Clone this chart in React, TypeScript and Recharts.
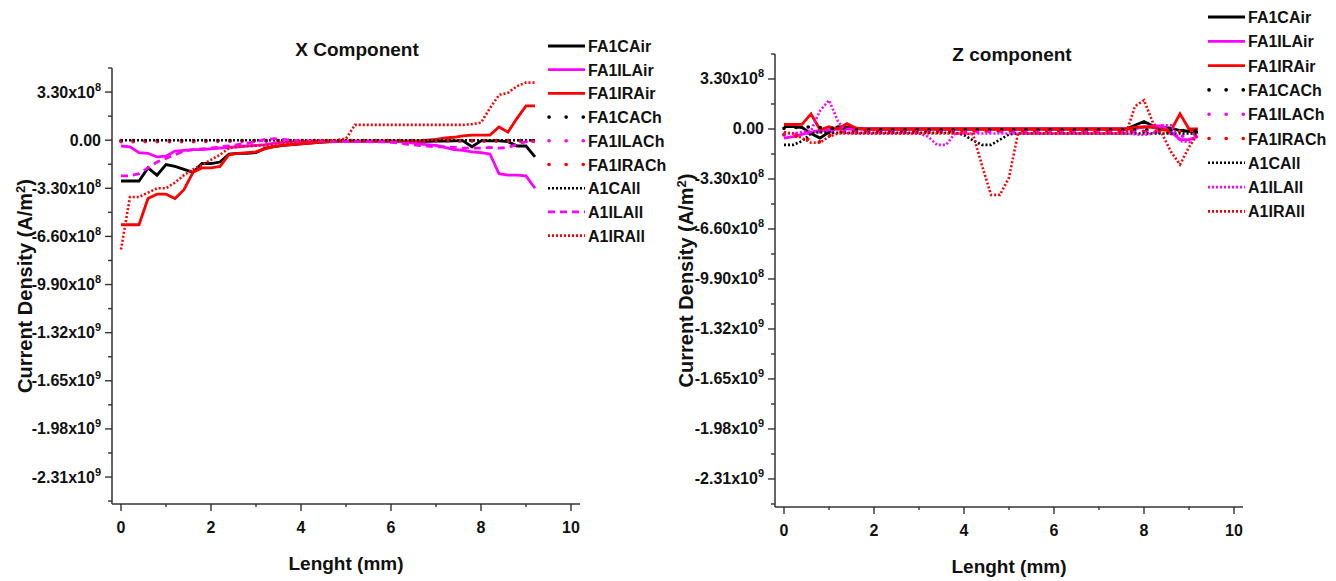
import React from 'react';
import { LineChart, Line, XAxis, YAxis, Legend, Label } from 'recharts';

const FONT = '"Liberation Sans", Arial, sans-serif';
const AXIS = '#333';

// Lenght (mm)
const lengths = [
  0, 0.2, 0.4, 0.6, 0.8, 1, 1.2, 1.4, 1.6, 1.8,
  2, 2.2, 2.4, 2.6, 2.8, 3, 3.2, 3.4, 3.6, 3.8,
  4, 4.2, 4.4, 4.6, 4.8, 5, 5.2, 5.4, 5.6, 5.8,
  6, 6.2, 6.4, 6.6, 6.8, 7, 7.2, 7.4, 7.6, 7.8,
  8, 8.2, 8.4, 8.6, 8.8, 9, 9.2,
];

const seriesNames = ['FA1CAir', 'FA1ILAir', 'FA1IRAir', 'FA1CACh', 'FA1ILACh', 'FA1IRACh', 'A1CAll', 'A1ILAll', 'A1IRAll'];

// X component, current density in units of 1e8 A/m2
const xFA1CAir = [
  -2.8, -2.8, -2.8, -1.9, -2.4, -1.67, -1.8, -2.0, -2.2, -1.6,
  -1.6, -1.5, -0.95, -0.9, -0.9, -0.85, -0.55, -0.45, -0.35, -0.3,
  -0.25, -0.2, -0.15, -0.12, -0.1, -0.1, -0.08, -0.08, -0.08, -0.08,
  -0.08, -0.08, -0.08, -0.08, -0.08, -0.07, -0.06, -0.05, -0.05, -0.45,
  -0.05, -0.05, -0.05, -0.1, -0.4, -0.4, -1.15,
];
const xFA1ILAir = [
  -0.4, -0.45, -0.85, -0.9, -1.15, -1.1, -0.75, -0.7, -0.65, -0.65,
  -0.6, -0.55, -0.5, -0.45, -0.4, -0.35, -0.3, -0.2, -0.15, -0.12,
  -0.1, -0.1, -0.1, -0.1, -0.1, -0.1, -0.1, -0.1, -0.1, -0.1,
  -0.1, -0.1, -0.15, -0.25, -0.3, -0.35, -0.5, -0.65, -0.7, -0.8,
  -0.85, -0.95, -2.3, -2.4, -2.4, -2.45, -3.3,
];
const xFA1IRAir = [
  -5.8, -5.8, -5.8, -4.0, -3.7, -3.7, -4.0, -3.4, -2.2, -1.9,
  -1.9, -1.8, -1.0, -0.9, -0.85, -0.8, -0.6, -0.45, -0.35, -0.3,
  -0.25, -0.2, -0.15, -0.1, -0.1, -0.05, -0.05, -0.05, -0.05, -0.05,
  -0.05, -0.05, -0.05, -0.05, 0, 0.05, 0.15, 0.2, 0.3, 0.35,
  0.35, 0.35, 0.9, 0.55, 1.5, 2.35, 2.35,
];
const xFA1CACh = [
  -0.03, -0.03, -0.03, -0.03, -0.03, -0.03, -0.03, -0.03, -0.03, -0.03,
  -0.03, -0.03, -0.03, -0.03, -0.03, -0.03, -0.03, -0.03, -0.03, -0.03,
  -0.03, -0.03, -0.03, -0.03, -0.03, -0.03, -0.03, -0.03, -0.03, -0.03,
  -0.03, -0.03, -0.03, -0.03, -0.03, -0.03, -0.03, -0.03, -0.03, -0.03,
  -0.03, -0.03, -0.03, -0.03, -0.03, -0.03, -0.03,
];
const xFA1ILACh = [
  -0.1, -0.1, -0.1, -0.1, -0.1, -0.1, -0.1, -0.1, -0.1, -0.1,
  -0.08, -0.08, -0.08, -0.08, -0.08, -0.05, -0.05, -0.05, -0.05, -0.05,
  -0.05, -0.05, -0.05, -0.05, -0.05, -0.05, -0.05, -0.05, -0.05, -0.05,
  -0.05, -0.05, -0.05, -0.05, -0.05, -0.05, -0.05, -0.05, -0.05, -0.05,
  -0.05, -0.05, -0.05, -0.05, -0.05, -0.05, -0.05,
];
const xFA1IRACh = [
  -0.06, -0.06, -0.06, -0.06, -0.06, -0.06, -0.06, -0.06, -0.06, -0.06,
  -0.04, -0.04, -0.04, -0.04, -0.04, -0.04, -0.04, -0.04, -0.04, -0.04,
  -0.04, -0.04, -0.04, -0.04, -0.04, -0.04, -0.04, -0.04, -0.04, -0.04,
  -0.04, -0.04, -0.04, -0.04, -0.04, -0.04, -0.04, -0.04, -0.04, -0.04,
  -0.04, -0.04, -0.04, -0.04, -0.04, -0.04, -0.04,
];
const xA1CAll = [
  0, 0, 0, 0, 0, 0, 0, 0, 0, 0,
  0, 0, 0, 0, 0, 0, 0, 0, 0, 0,
  0, 0, 0, 0, 0, 0, 0, 0, 0, 0,
  0, 0, 0, 0, 0, 0, 0, 0, 0, 0,
  0, 0, 0, 0, 0, 0, 0,
];
const xA1ILAll = [
  -2.45, -2.45, -2.3, -1.9, -1.5, -1.25, -1.0, -0.75, -0.65, -0.6,
  -0.55, -0.45, -0.4, -0.3, -0.2, -0.1, 0.05, 0.1, 0.05, 0,
  -0.05, -0.05, -0.05, -0.08, -0.08, -0.1, -0.1, -0.1, -0.12, -0.12,
  -0.15, -0.2, -0.3, -0.35, -0.4, -0.45, -0.45, -0.5, -0.55, -0.55,
  -0.55, -0.5, -0.55, -0.5, -0.3, -0.1, -0.1,
];
const xA1IRAll = [
  -7.5, -3.9, -3.9, -3.6, -3.3, -3.3, -2.9, -2.4, -2.0, -1.7,
  -1.35, -1.0, -0.55, -0.45, -0.4, -0.38, -0.35, -0.3, -0.2, -0.15,
  -0.1, -0.05, -0.02, 0, 0, 0.1, 1.05, 1.05, 1.05, 1.05,
  1.05, 1.05, 1.05, 1.05, 1.05, 1.05, 1.05, 1.05, 1.05, 1.1,
  1.2, 2.2, 3.1, 3.25, 3.7, 3.95, 3.95,
];

// Z component, current density in units of 1e8 A/m2
const zFA1CAir = [
  0.15, 0.15, 0.1, -0.3, -0.6, -0.2, 0.15, 0.1, 0.05, 0,
  0, 0, 0, 0, 0, 0, 0, 0, 0, 0,
  0, 0, 0, 0, 0, 0, 0, 0, 0, 0,
  0, 0, 0, 0, 0, 0, 0, 0, 0, 0.25,
  0.5, 0.2, 0.1, 0.05, -0.1, -0.15, -0.2,
];
const zFA1ILAir = [
  -0.6, -0.5, -0.35, -0.2, -0.1, -0.05, 0, 0, 0, 0,
  0, 0, 0, 0, 0, 0, 0, 0, 0, 0,
  0, 0, 0, 0, 0, 0, 0, 0, 0, 0,
  0, 0, 0, 0, 0, 0, 0, 0, 0, 0.05,
  0.1, 0.2, 0.2, -0.2, -0.7, -0.7, -0.5,
];
const zFA1IRAir = [
  0.3, 0.3, 0.3, 1.0, -0.05, 0.15, 0, 0.35, 0.05, 0,
  0, 0, 0, 0, 0, 0, 0, 0, 0, 0,
  0, 0, 0, 0, 0, 0, 0, 0, 0, 0,
  0, 0, 0, 0, 0, 0, 0, 0, 0, 0.1,
  0.15, 0.1, -0.05, -0.1, 1.0, 0, 0,
];
const zFA1CACh = [
  0.05, 0.1, 0.1, 0.15, 0.1, 0.05, 0, 0, -0.05, -0.05,
  -0.05, -0.05, -0.05, -0.05, -0.05, -0.05, -0.05, -0.05, -0.05, -0.05,
  -0.05, -0.05, -0.05, -0.05, -0.05, -0.05, -0.05, -0.05, -0.05, -0.05,
  -0.05, -0.05, -0.05, -0.05, -0.05, -0.05, -0.05, -0.05, -0.05, -0.05,
  -0.05, -0.05, -0.05, -0.05, -0.1, -0.1, -0.1,
];
const zFA1ILACh = [
  -0.4, -0.35, -0.3, -0.25, -0.2, -0.2, -0.2, -0.2, -0.2, -0.2,
  -0.2, -0.2, -0.2, -0.2, -0.2, -0.2, -0.2, -0.2, -0.2, -0.2,
  -0.2, -0.2, -0.2, -0.2, -0.2, -0.2, -0.2, -0.2, -0.2, -0.2,
  -0.2, -0.2, -0.2, -0.2, -0.2, -0.2, -0.2, -0.2, -0.2, -0.2,
  -0.2, -0.2, -0.25, -0.3, -0.5, -0.4, -0.3,
];
const zFA1IRACh = [
  -0.35, -0.45, -0.55, -0.75, -0.85, -0.45, -0.2, -0.15, -0.15, -0.15,
  -0.15, -0.15, -0.15, -0.15, -0.15, -0.15, -0.15, -0.15, -0.15, -0.15,
  -0.15, -0.15, -0.15, -0.15, -0.15, -0.15, -0.15, -0.15, -0.15, -0.15,
  -0.15, -0.15, -0.15, -0.15, -0.15, -0.15, -0.15, -0.15, -0.15, -0.15,
  -0.15, -0.15, -0.25, -0.2, -0.15, -0.15, -0.15,
];
const zA1CAll = [
  -1.05, -1.05, -0.8, -0.3, -0.2, -0.25, -0.25, -0.25, -0.25, -0.25,
  -0.25, -0.25, -0.25, -0.25, -0.25, -0.25, -0.25, -0.25, -0.25, -0.25,
  -0.4, -0.75, -1.05, -1.05, -0.7, -0.35, -0.3, -0.3, -0.3, -0.3,
  -0.3, -0.3, -0.3, -0.3, -0.3, -0.3, -0.3, -0.3, -0.3, -0.3,
  -0.3, -0.3, -0.3, -0.3, -0.3, -0.3, -0.3,
];
const zA1ILAll = [
  -0.3, -0.3, -0.2, -0.1, 1.2, 1.9, 0.5, -0.25, -0.3, -0.3,
  -0.3, -0.3, -0.3, -0.3, -0.3, -0.3, -0.5, -1.05, -1.05, -0.3,
  -0.3, -0.3, -0.3, -0.3, -0.3, -0.3, -0.3, -0.3, -0.3, -0.3,
  -0.3, -0.3, -0.3, -0.3, -0.3, -0.3, -0.3, -0.3, -0.3, -0.35,
  -0.4, -0.3, 0.25, 0.25, -0.8, -0.85, -0.4,
];
const zA1IRAll = [
  -0.2, -0.3, -0.6, -0.9, -0.9, -0.5, -0.3, -0.3, -0.3, -0.3,
  -0.3, -0.3, -0.3, -0.3, -0.3, -0.3, -0.3, -0.3, -0.3, -0.3,
  -0.3, -0.35, -2.4, -4.35, -4.35, -3.2, -0.3, -0.3, -0.3, -0.3,
  -0.3, -0.3, -0.3, -0.3, -0.3, -0.3, -0.3, -0.3, -0.3, 1.5,
  1.9, 0.4, -0.3, -1.5, -2.35, -1.2, -0.3,
];

const xTicks = [0, 1, 2, 3, 4, 5, 6, 7, 8, 9, 10];
const yTicks = [
  -24.75, -23.1, -21.45, -19.8, -18.15, -16.5, -14.85, -13.2, -11.55, -9.9,
  -8.25, -6.6, -4.95, -3.3, -1.65, 0, 1.65, 3.3, 4.95,
];

type Kind = 'solid' | 'bigdot' | 'finedot' | 'dash';
type SeriesStyle = { color: string; kind: Kind };

const xStyles: SeriesStyle[] = [
  { color: '#000000', kind: 'solid' },
  { color: '#ff00ff', kind: 'solid' },
  { color: '#ff0000', kind: 'solid' },
  { color: '#000000', kind: 'bigdot' },
  { color: '#ff00ff', kind: 'bigdot' },
  { color: '#ff0000', kind: 'bigdot' },
  { color: '#000000', kind: 'finedot' },
  { color: '#ff00ff', kind: 'dash' },
  { color: '#ff0000', kind: 'finedot' },
];
const zStyles: SeriesStyle[] = xStyles.map((s, i) => (i === 7 ? { color: '#ff00ff', kind: 'finedot' } : s));

const dashFor: Record<Kind, string | undefined> = { solid: undefined, bigdot: '0.1 12', finedot: '2 2', dash: '7 5' };
const legendDashFor: Record<Kind, string | undefined> = { solid: undefined, bigdot: '0.1 17', finedot: '2 2', dash: '7 5' };
const widthFor: Record<Kind, number> = { solid: 2.8, bigdot: 3.6, finedot: 2.6, dash: 2.8 };

const buildRows = (cols: number[][]) =>
  lengths.map((x, i) => {
    const row: Record<string, number> = { x };
    seriesNames.forEach((name, k) => {
      row[name] = cols[k][i];
    });
    return row;
  });

const xRows = buildRows([xFA1CAir, xFA1ILAir, xFA1IRAir, xFA1CACh, xFA1ILACh, xFA1IRACh, xA1CAll, xA1ILAll, xA1IRAll]);
const zRows = buildRows([zFA1CAir, zFA1ILAir, zFA1IRAir, zFA1CACh, zFA1ILACh, zFA1IRACh, zA1CAll, zA1ILAll, zA1IRAll]);

const isMajor = (v: number, step: number) => Math.abs(v / step - Math.round(v / step)) < 1e-6;

const sciParts = (v: number) => {
  if (Math.abs(v) < 1e-9) return { mant: '0.00', exp: '' };
  const real = v * 1e8;
  const exp = Math.floor(Math.log10(Math.abs(real)) + 1e-9);
  const mant = real / Math.pow(10, exp);
  return { mant: mant.toFixed(2) + 'x10', exp: String(exp) };
};

const YTick = (props: any) => {
  const { x, y, payload } = props;
  const major = isMajor(payload.value, 3.3);
  const { mant, exp } = sciParts(payload.value);
  return (
    <g>
      <line x1={x} x2={x - (major ? 7 : 4)} y1={y} y2={y} stroke={AXIS} strokeWidth={1.4} />
      {major && (
        <text x={x - 11} y={y + 5.5} textAnchor="end" fontFamily={FONT} fontWeight="bold" fontSize={16} fill="#111">
          {mant}
          {exp && (
            <tspan dy={-7} fontSize={11}>
              {exp}
            </tspan>
          )}
        </text>
      )}
    </g>
  );
};

const XTick = (props: any) => {
  const { x, y, payload } = props;
  const major = isMajor(payload.value, 2);
  return (
    <g>
      <line x1={x} x2={x} y1={y} y2={y + (major ? 7 : 3)} stroke={AXIS} strokeWidth={1.4} />
      {major && (
        <text x={x} y={y + 29} textAnchor="middle" fontFamily={FONT} fontWeight="bold" fontSize={16} fill="#111">
          {payload.value}
        </text>
      )}
    </g>
  );
};

const LegendBox = ({ styles, gap }: { styles: SeriesStyle[]; gap: number }) => (
  <svg width={125} height={gap * 9 + 6} style={{ display: 'block' }}>
    {seriesNames.map((name, i) => {
      const y = 8 + i * gap;
      const s = styles[i];
      return (
        <g key={name}>
          <line
            x1={s.kind === 'bigdot' ? 3 : 2}
            x2={s.kind === 'bigdot' ? 37.5 : 39}
            y1={y}
            y2={y}
            stroke={s.color}
            strokeWidth={widthFor[s.kind]}
            strokeDasharray={legendDashFor[s.kind]}
            strokeLinecap={s.kind === 'bigdot' ? 'round' : 'butt'}
          />
          <text x={42} y={y + 6} fontFamily={FONT} fontWeight="bold" fontSize={16} fill="#111">
            {name}
          </text>
        </g>
      );
    })}
  </svg>
);

type PanelProps = {
  left: number;
  width: number;
  margin: { top: number; right: number; bottom: number; left: number };
  rows: Record<string, number>[];
  styles: SeriesStyle[];
  legendTop: number;
  legendGap: number;
  title: string;
  titleCenter: [number, number];
  yLabelDx: number;
};

const Panel = ({ left, width, margin, rows, styles, legendTop, legendGap, title, titleCenter, yLabelDx }: PanelProps) => (
  <div style={{ position: 'absolute', left, top: 0, width, height: 581 }}>
    <div
      style={{
        position: 'absolute',
        left: titleCenter[0] - 150,
        top: titleCenter[1] - 11,
        width: 300,
        textAlign: 'center',
        fontFamily: FONT,
        fontWeight: 'bold',
        fontSize: 19,
        lineHeight: '22px',
        color: '#111',
        zIndex: 2,
      }}
    >
      {title}
    </div>
    <LineChart width={width} height={581} data={rows} margin={margin}>
      <XAxis
        dataKey="x"
        type="number"
        domain={[-0.2, 10.2]}
        ticks={xTicks}
        interval={0}
        allowDataOverflow
        tickLine={false}
        tickSize={0}
        tickMargin={0}
        tick={<XTick />}
        axisLine={{ stroke: AXIS, strokeWidth: 1.5 }}
        height={60}
      >
        <Label
          content={(p: any) => (
            <text
              x={p.viewBox.x + p.viewBox.width / 2}
              y={p.viewBox.y + 66}
              textAnchor="middle"
              fontFamily={FONT}
              fontWeight="bold"
              fontSize={19}
              fill="#111"
            >
              Lenght (mm)
            </text>
          )}
        />
      </XAxis>
      <YAxis
        type="number"
        domain={[-24.95, 4.95]}
        ticks={yTicks}
        interval={0}
        allowDataOverflow
        tickLine={false}
        tickSize={0}
        tickMargin={0}
        tick={<YTick />}
        axisLine={{ stroke: AXIS, strokeWidth: 1.5 }}
        width={100}
      >
        <Label
          content={(p: any) => {
            const cx = p.viewBox.x + yLabelDx;
            const cy = p.viewBox.y + p.viewBox.height / 2;
            return (
              <text
                x={cx}
                y={cy + 7}
                transform={`rotate(-90 ${cx} ${cy})`}
                textAnchor="middle"
                fontFamily={FONT}
                fontWeight="bold"
                fontSize={20}
                fill="#111"
              >
                Current Density (A/m
                <tspan dy={-7} fontSize={13}>
                  2
                </tspan>
                <tspan dy={7}>)</tspan>
              </text>
            );
          }}
        />
      </YAxis>
      <Legend
        layout="vertical"
        align="center"
        verticalAlign="middle"
        wrapperStyle={{ left: 546, top: legendTop, width: 125 }}
        content={() => <LegendBox styles={styles} gap={legendGap} />}
      />
      {seriesNames.map((name, i) => (
        <Line
          key={name}
          type="linear"
          dataKey={name}
          stroke={styles[i].color}
          strokeWidth={widthFor[styles[i].kind]}
          strokeDasharray={dashFor[styles[i].kind]}
          strokeLinecap={styles[i].kind === 'bigdot' ? 'round' : 'butt'}
          dot={false}
          activeDot={false}
          isAnimationActive={false}
        />
      ))}
    </LineChart>
  </div>
);

export default function App() {
  return (
    <div style={{ position: 'absolute', left: 0, top: 0, width: 1336, height: 581, background: '#fff', overflow: 'hidden' }}>
      <Panel
        left={0}
        width={660}
        margin={{ top: 68, right: 80, bottom: 17, left: 12 }}
        rows={xRows}
        styles={xStyles}
        legendTop={38}
        legendGap={23.7}
        title="X Component"
        titleCenter={[357, 50]}
        yLabelDx={13}
      />
      <Panel
        left={660}
        width={676}
        margin={{ top: 54, right: 93, bottom: 14, left: 15 }}
        rows={zRows}
        styles={zStyles}
        legendTop={9}
        legendGap={24.3}
        title="Z component"
        titleCenter={[352, 55]}
        yLabelDx={11}
      />
    </div>
  );
}
